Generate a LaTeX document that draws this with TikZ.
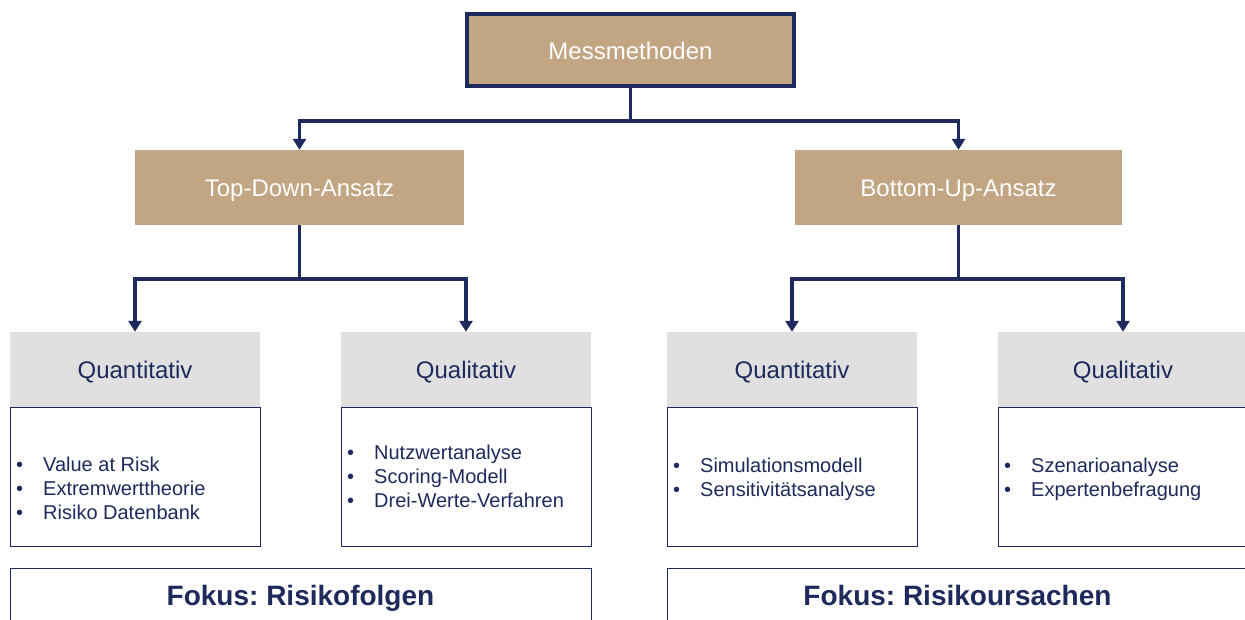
\documentclass[tikz,border=0pt]{standalone}
\usepackage{fontspec}
\setmainfont{Liberation Sans}
\usetikzlibrary{arrows.meta,calc}
\definecolor{navy}{HTML}{1F2A5C}
\definecolor{tanfill}{HTML}{C2A582}
\definecolor{hdrgray}{HTML}{E0E0E0}
\frenchspacing

% bulleted list with a fixed indent
\newcommand{\blist}[1]{\begin{tabular}{@{}p{27pt}@{}l@{}}#1\end{tabular}}

\begin{document}
\begin{tikzpicture}[x=1pt,y=-1pt,
  bigtext/.style={font=\fontsize{24}{28}\selectfont,text height=18pt,text depth=0pt},
  rootbox/.style={bigtext,draw=navy,line width=4pt,fill=tanfill,text=white,
    minimum width=327pt,minimum height=72pt,inner sep=0pt},
  approach/.style={bigtext,fill=tanfill,text=white,minimum height=75pt,inner sep=0pt},
  hdr/.style={bigtext,fill=hdrgray,text=navy,minimum width=250pt,minimum height=75pt,
    inner sep=0pt},
  body/.style={draw=navy,line width=1pt,fill=white,minimum width=250pt,
    minimum height=139pt,inner sep=0pt},
  items/.style={anchor=west,text=navy,inner sep=0pt,
    font=\fontsize{20}{24}\selectfont},
  focus/.style={draw=navy,line width=1pt,fill=white,minimum height=54pt,
    inner sep=0pt,text=navy,font=\bfseries\fontsize{28}{32}\selectfont,
    text height=20pt,text depth=0pt},
  conn/.style={draw=navy,line width=3.6pt},
  arr/.style={conn,-{Triangle[width=13pt,length=11pt]}}
]
\useasboundingbox (0,0) rectangle (1245,619);

% top level
\node[rootbox] (mm) at (630.5,50) {Messmethoden};

% approaches
\node[approach,minimum width=329pt] (td) at (299.5,187.5) {Top-Down-Ansatz};
\node[approach,minimum width=327pt] (bu) at (958.5,187.5) {Bottom-Up-Ansatz};

% headers
\node[hdr] (h1) at (135,369.5) {Quantitativ};
\node[hdr] (h2) at (466,369.5) {Qualitativ};
\node[hdr] (h3) at (792,369.5) {Quantitativ};
\node[hdr] (h4) at (1123,369.5) {Qualitativ};

% method boxes
\node[body] (b1) at (135,476.5) {};
\node[body] (b2) at (466,476.5) {};
\node[body] (b3) at (792,476.5) {};
\node[body] (b4) at (1123,476.5) {};

\node[items] (l1) at (16,491) {\blist{•&Value at Risk\\•&Extremwerttheorie\\•&Risiko Datenbank}};
\node[items] (l2) at (347,479) {\blist{•&Nutzwertanalyse\\•&Scoring-Modell\\•&Drei-Werte-Verfahren}};
\node[items] (l3) at (673,480) {\blist{•&Simulationsmodell\\•&Sensitivitätsanalyse}};
\node[items] (l4) at (1004,480) {\blist{•&Szenarioanalyse\\•&Expertenbefragung}};

% focus boxes
\node[focus,minimum width=581pt] (f1) at (300.5,595) {Fokus: Risikofolgen};
\node[focus,minimum width=581pt] (f2) at (957.5,595) {Fokus: Risikoursachen};

% connectors
\draw[arr] (mm.south) -- ++(0,33) -| (td.north);
\draw[arr] (mm.south) -- ++(0,33) -| (bu.north);
\draw[arr] (td.south) -- ++(0,54) -| (h1.north);
\draw[arr] (td.south) -- ++(0,54) -| (h2.north);
\draw[arr] (bu.south) -- ++(0,54) -| (h3.north);
\draw[arr] (bu.south) -- ++(0,54) -| (h4.north);
\end{tikzpicture}
\end{document}
